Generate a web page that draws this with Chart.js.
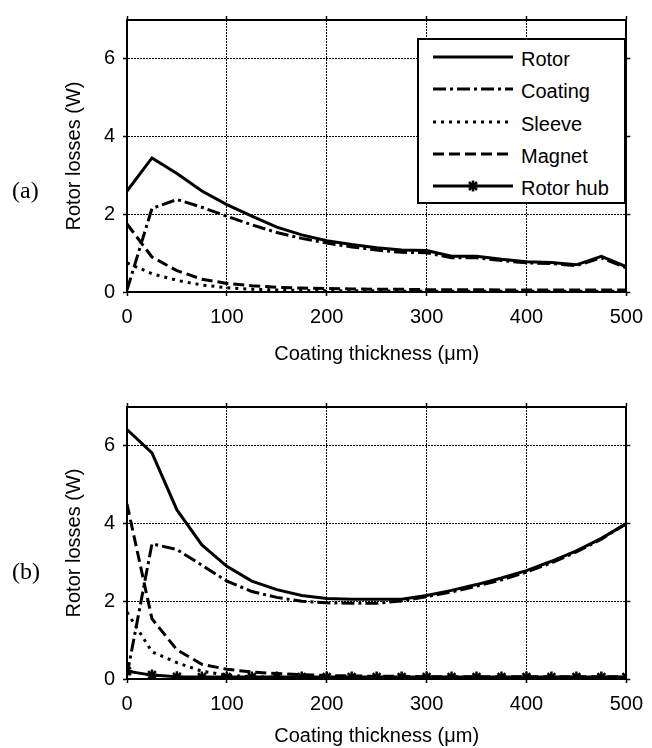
<!DOCTYPE html>
<html>
<head>
<meta charset="utf-8">
<script src="https://cdn.jsdelivr.net/npm/chart.js@4.4.1/dist/chart.umd.min.js"></script>
<style>
  body { margin: 0; background: #fff; }
  #wrap { position: relative; width: 652px; height: 748px; overflow: hidden; }
  canvas { position: absolute; left: 0; }
  .tag { position: absolute; left: 12px; font: 24px 'Liberation Serif', 'Times New Roman', serif; line-height: 24px; color: #000; }
  #legend { position: absolute; left: 417px; top: 38px; width: 205px; height: 162px; border: 2px solid #000; background: #fff;
            font: 20px 'Liberation Sans', Arial, sans-serif; color: #000; }
  .row { position: absolute; left: 0; width: 205px; height: 24px; }
  .row svg { position: absolute; left: 14px; top: 0; }
  .row span { position: absolute; left: 102px; top: 0; line-height: 24px; white-space: nowrap; }
</style>
</head>
<body>
<div id="wrap">
  <canvas id="chartA" width="652" height="366" style="top:0"></canvas>
  <canvas id="chartB" width="652" height="361" style="top:387px"></canvas>
  <div class="tag" style="top:178px">(a)</div>
  <div class="tag" style="top:559px">(b)</div>
  <div id="legend"></div>
</div>
<script>
const thickness = [0, 25, 50, 75, 100, 125, 150, 175, 200, 225, 250, 275, 300, 325, 350, 375, 400, 425, 450, 475, 500];
const xTicks = [0, 100, 200, 300, 400, 500];
const yTicks = [0, 2, 4, 6];
const seriesNames = ['Rotor', 'Coating', 'Sleeve', 'Magnet', 'Rotor hub'];

// (a)
const rotorA    = [2.6, 3.45, 3.05, 2.6, 2.25, 1.95, 1.67, 1.47, 1.32, 1.22, 1.14, 1.08, 1.07, 0.92, 0.92, 0.84, 0.78, 0.76, 0.7, 0.92, 0.65];
const coatingA  = [0.05, 2.15, 2.38, 2.18, 1.95, 1.73, 1.53, 1.38, 1.26, 1.16, 1.08, 1.02, 1.01, 0.88, 0.88, 0.81, 0.75, 0.73, 0.68, 0.88, 0.62];
const sleeveA   = [0.75, 0.47, 0.3, 0.18, 0.11, 0.07, 0.05, 0.04, 0.03, 0.03, 0.03, 0.02, 0.02, 0.02, 0.02, 0.02, 0.02, 0.02, 0.02, 0.02, 0.02];
const magnetA   = [1.75, 0.9, 0.55, 0.33, 0.22, 0.16, 0.12, 0.1, 0.09, 0.08, 0.07, 0.07, 0.06, 0.06, 0.06, 0.05, 0.05, 0.05, 0.05, 0.05, 0.05];
const hubA      = []; // not visible in (a)

// (b)
const rotorB    = [6.42, 5.82, 4.35, 3.45, 2.9, 2.52, 2.3, 2.15, 2.07, 2.05, 2.05, 2.05, 2.15, 2.28, 2.43, 2.6, 2.79, 3.03, 3.3, 3.62, 4.0];
const coatingB  = [0.1, 3.48, 3.33, 2.93, 2.52, 2.25, 2.1, 2.0, 1.96, 1.95, 1.95, 2.01, 2.12, 2.24, 2.39, 2.55, 2.75, 2.99, 3.27, 3.6, 4.0];
const sleeveB   = [1.72, 0.7, 0.42, 0.2, 0.1, 0.06, 0.04, 0.03, 0.03, 0.02, 0.02, 0.02, 0.02, 0.02, 0.02, 0.02, 0.02, 0.02, 0.02, 0.02, 0.02];
const magnetB   = [4.5, 1.55, 0.75, 0.38, 0.25, 0.18, 0.14, 0.11, 0.09, 0.08, 0.07, 0.07, 0.06, 0.06, 0.06, 0.06, 0.06, 0.06, 0.06, 0.06, 0.06];
const hubB      = [0.2, 0.1, 0.06, 0.05, 0.05, 0.05, 0.05, 0.05, 0.05, 0.05, 0.05, 0.05, 0.05, 0.05, 0.05, 0.05, 0.05, 0.05, 0.05, 0.05, 0.05];

const FONT = "'Liberation Sans', Arial, sans-serif";
const dashes = { 'Rotor': [], 'Coating': [13, 4, 3, 4], 'Sleeve': [3, 5], 'Magnet': [11, 5], 'Rotor hub': [] };

const pts = vals => vals.map((v, i) => ({ x: thickness[i], y: v }));

const frameScale = (pos, min, max, ticks) => ({
  type: 'linear', position: pos, min, max,
  afterBuildTicks: s => { s.ticks = ticks.map(v => ({ value: v })); },
  afterFit: s => { if (pos === 'top') s.height = 0; else s.width = 0; },
  ticks: { display: false },
  grid: { drawOnChartArea: false, tickLength: 4, tickColor: '#000', tickWidth: 1.5 },
  border: { display: true, color: '#000', width: 2 }
});

function makeChart(id, vals) {
  const canvas = document.getElementById(id);
  const datasets = seriesNames.map((name, k) => ({
    label: name,
    data: pts(vals[k]),
    borderColor: '#000',
    backgroundColor: '#000',
    borderWidth: 3,
    borderDash: dashes[name],
    borderCapStyle: 'butt',
    tension: 0,
    pointStyle: 'star',
    pointRadius: name === 'Rotor hub' ? 5.5 : 0,
    pointBorderWidth: 2.5,
    pointBorderColor: '#000'
  }));
  return new Chart(canvas, {
    type: 'line',
    data: { datasets },
    options: {
      responsive: false,
      animation: false,
      devicePixelRatio: 1,
      layout: { padding: { top: 17, right: 19, left: 62, bottom: 0 } },
      plugins: { legend: { display: false }, tooltip: { enabled: false } },
      scales: {
        x: {
          type: 'linear', min: 0, max: 500,
          afterBuildTicks: s => { s.ticks = xTicks.map(v => ({ value: v })); },
          afterFit: s => { s.height = canvas.height - 17 - 275; },
          ticks: { font: { family: FONT, size: 20 }, color: '#000', padding: 9, maxRotation: 0 },
          grid: { color: '#000', lineWidth: 1, tickLength: 4, tickColor: '#000', tickWidth: 1.5 },
          border: { display: true, color: '#000', width: 2, dash: [2, 1] },
          title: { display: true, text: 'Coating thickness (\u03bcm)', font: { family: FONT, size: 20 }, color: '#000', padding: { top: 0, bottom: 0 } }
        },
        y: {
          type: 'linear', min: 0, max: 7,
          afterBuildTicks: s => { s.ticks = yTicks.map(v => ({ value: v })); },
          afterFit: s => { s.width = 65; },
          ticks: { font: { family: FONT, size: 20 }, color: '#000', padding: 8 },
          grid: { color: '#000', lineWidth: 1, tickLength: 4, tickColor: '#000', tickWidth: 1.5 },
          border: { display: true, color: '#000', width: 2, dash: [2, 1] },
          title: { display: true, text: 'Rotor losses (W)', font: { family: FONT, size: 20 }, color: '#000', padding: { top: 0, bottom: 0 } }
        },
        x2: frameScale('top', 0, 500, xTicks),
        y2: frameScale('right', 0, 7, yTicks)
      }
    }
  });
}

makeChart('chartA', [rotorA, coatingA, sleeveA, magnetA, hubA]);
makeChart('chartB', [rotorB, coatingB, sleeveB, magnetB, hubB]);

// legend box inside (a)
const legend = document.getElementById('legend');
const rowCenters = [19, 51, 84, 116, 148];
seriesNames.forEach((name, i) => {
  const row = document.createElement('div');
  row.className = 'row';
  row.style.top = (rowCenters[i] - 12) + 'px';
  const dash = dashes[name].length ? `stroke-dasharray="${dashes[name].join(' ')}"` : '';
  let marker = '';
  if (name === 'Rotor hub') {
    marker = '<g stroke="#000" stroke-width="2.5">' +
      '<line x1="40" y1="4.5" x2="40" y2="15.5"/><line x1="34.5" y1="10" x2="45.5" y2="10"/>' +
      '<line x1="36" y1="6" x2="44" y2="14"/><line x1="36" y1="14" x2="44" y2="6"/></g>';
  }
  row.innerHTML = `<svg width="80" height="24"><line x1="0" y1="10" x2="80" y2="10" stroke="#000" stroke-width="3" ${dash}/>${marker}</svg><span>${name}</span>`;
  legend.appendChild(row);
});
</script>
</body>
</html>
